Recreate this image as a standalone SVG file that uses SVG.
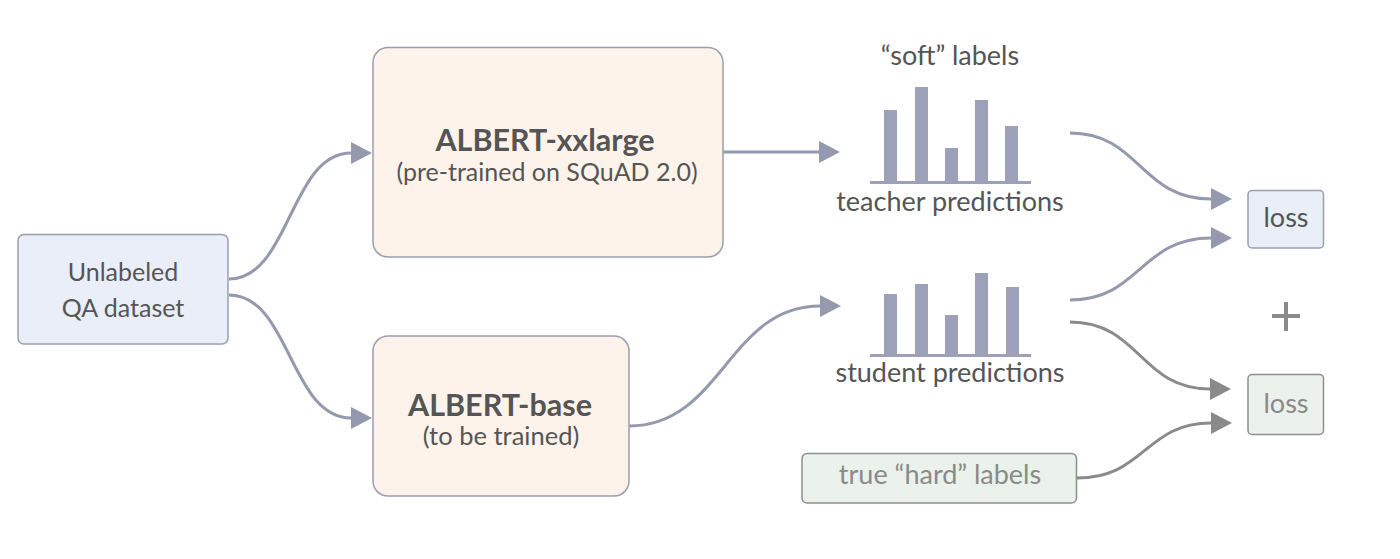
<svg xmlns="http://www.w3.org/2000/svg" width="1400" height="559" viewBox="0 0 1400 559">
<defs>
<style>
.t{font-family:Lato,"Open Sans","Liberation Sans",sans-serif;fill:#555555;font-size:25px;text-anchor:middle}
.r{font-size:27px}
.b{font-weight:bold;font-size:30.5px}
.g{fill:#8a8a8a}
.blue{fill:#e9eef8;stroke:#9a9eb0;stroke-width:1.5}
.orange{fill:#fdf3ea;stroke:#9a9eb0;stroke-width:1.5}
.green{fill:#ebf1eb;stroke:#8e8e8e;stroke-width:1.5}
.c{fill:none;stroke:#9599ad;stroke-width:3}
.cg{fill:none;stroke:#8a8a8a;stroke-width:3}
.bar{fill:#9ca0b8}
</style>
<marker id="ah" markerUnits="userSpaceOnUse" markerWidth="22" markerHeight="22" refX="0" refY="11" orient="auto">
<path d="M0,0 L21,11 L0,22 z" fill="#9599ad"/>
</marker>
<marker id="ahg" markerUnits="userSpaceOnUse" markerWidth="22" markerHeight="22" refX="0" refY="11" orient="auto">
<path d="M0,0 L21,11 L0,22 z" fill="#8a8a8a"/>
</marker>
</defs>
<rect width="1400" height="559" fill="#ffffff"/>
<g id="connectors">
<path class="c" d="M229,279 C290,279 290,153 351,153" marker-end="url(#ah)"/>
<path class="c" d="M229,295 C290,295 290,418 351,418" marker-end="url(#ah)"/>
<path class="c" d="M723,152 L819,152" marker-end="url(#ah)"/>
<path class="c" d="M629,426 C722,426 728,306 820,306" marker-end="url(#ah)"/>
<path class="c" d="M1070,133 C1140,133 1140,199 1211,199" marker-end="url(#ah)"/>
<path class="c" d="M1070,300 C1140,300 1140,238 1211,238" marker-end="url(#ah)"/>
<path class="cg" d="M1070,322 C1140,322 1140,389 1210,389" marker-end="url(#ahg)"/>
<path class="cg" d="M1077,478 C1145,478 1145,423 1211,423" marker-end="url(#ahg)"/>
</g>
<g id="unlabeled">
<rect class="blue" x="18" y="234.5" width="210" height="109.5" rx="6"/>
<text class="t" x="123" y="281">Unlabeled</text>
<text class="t" x="123" y="317">QA dataset</text>
</g>
<g id="albert-xxlarge">
<rect class="orange" x="373" y="47.5" width="350" height="209.5" rx="15"/>
<text class="t b" x="545" y="151">ALBERT-xxlarge</text>
<text class="t" x="547" y="181">(pre-trained on SQuAD 2.0)</text>
</g>
<g id="albert-base">
<rect class="orange" x="373" y="336" width="256" height="160" rx="15"/>
<text class="t b" x="500" y="416">ALBERT-base</text>
<text class="t" x="501" y="445" style="font-size:25.5px">(to be trained)</text>
</g>
<g id="teacher">
<text class="t r" x="950" y="65">“soft” labels</text>
<rect class="bar" x="884" y="110" width="13" height="71"/>
<rect class="bar" x="915" y="87" width="13" height="94"/>
<rect class="bar" x="945" y="148" width="13" height="33"/>
<rect class="bar" x="975" y="100" width="13" height="81"/>
<rect class="bar" x="1005" y="126" width="13" height="55"/>
<rect class="bar" x="870" y="181" width="161" height="3"/>
<text class="t r" x="950" y="211">teacher predictions</text>
</g>
<g id="student">
<rect class="bar" x="884" y="294" width="13" height="60"/>
<rect class="bar" x="915" y="284" width="13" height="70"/>
<rect class="bar" x="945" y="315" width="13" height="39"/>
<rect class="bar" x="975" y="273" width="13" height="81"/>
<rect class="bar" x="1006" y="287" width="13" height="67"/>
<rect class="bar" x="870" y="354" width="161" height="3"/>
<text class="t r" x="950" y="382">student predictions</text>
</g>
<g id="loss1">
<rect class="blue" x="1248" y="190.5" width="75.5" height="57.5" rx="4"/>
<text class="t r" x="1286" y="227">loss</text>
</g>
<g id="plus">
<rect x="1272" y="314" width="28" height="4" fill="#8a8a8a"/>
<rect x="1284" y="302" width="4" height="29" fill="#8a8a8a"/>
</g>
<g id="loss2">
<rect class="green" x="1248" y="374.5" width="75.5" height="60" rx="4"/>
<text class="t r g" x="1286" y="413">loss</text>
</g>
<g id="hard-labels">
<rect class="green" x="802" y="453.5" width="274.5" height="49.5" rx="5"/>
<text class="t r g" x="940" y="484">true “hard” labels</text>
</g>
</svg>
